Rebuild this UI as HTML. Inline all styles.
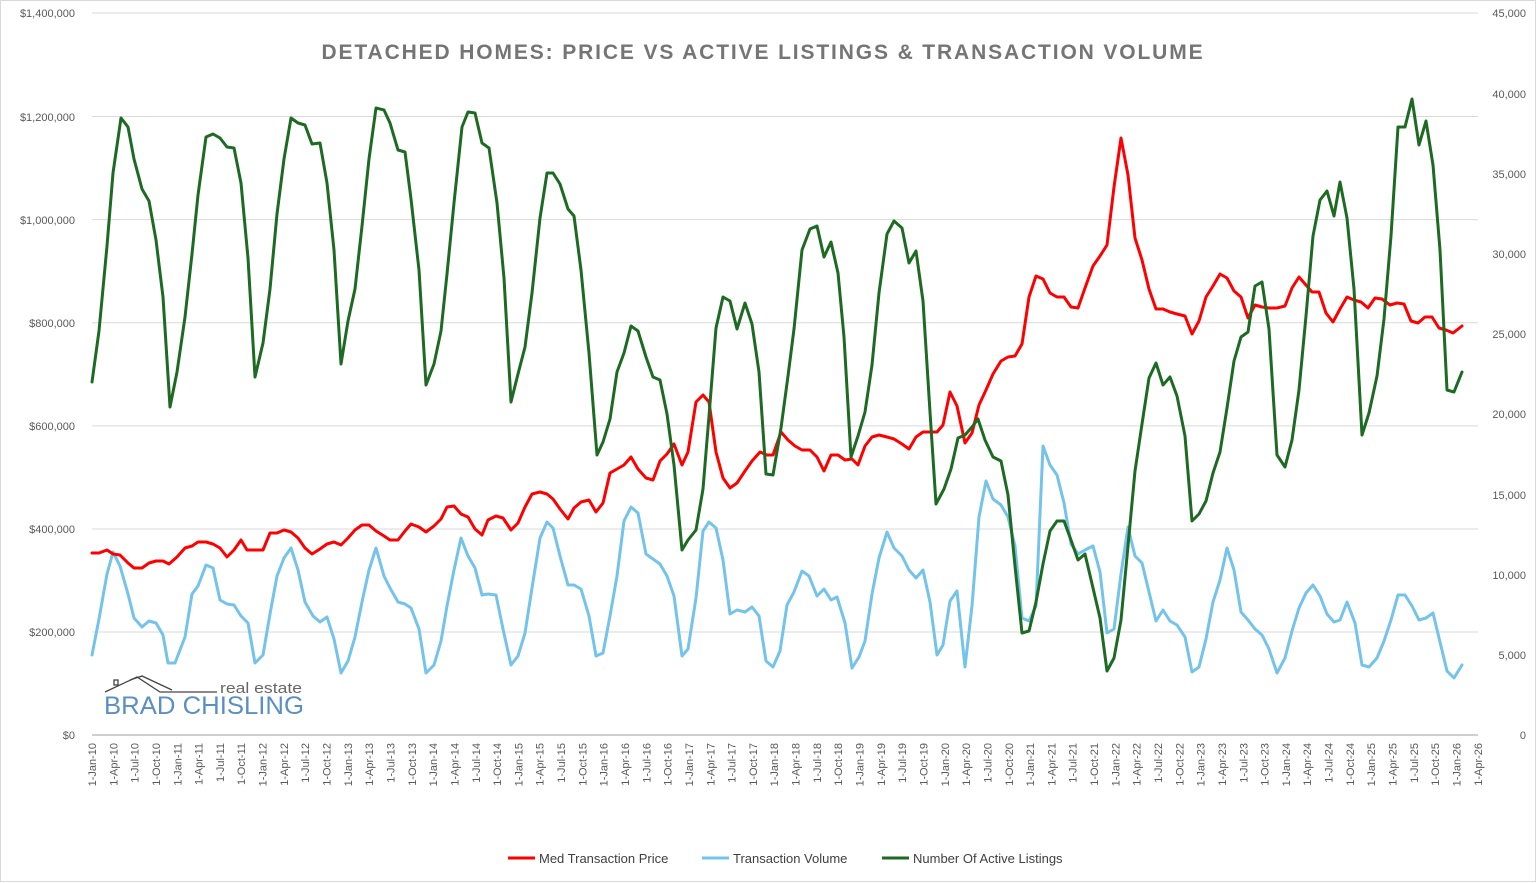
<!DOCTYPE html>
<html><head><meta charset="utf-8"><style>
html,body{margin:0;padding:0;background:#fff;}
svg{display:block;font-family:"Liberation Sans",sans-serif;}
</style></head><body>
<svg width="1537" height="883" viewBox="0 0 1537 883" xmlns="http://www.w3.org/2000/svg">
<rect x="0" y="0" width="1537" height="883" fill="#fff"/>
<rect x="0.5" y="0.5" width="1535" height="881" fill="none" stroke="#d9d9d9"/>
<g stroke="#d9d9d9" stroke-width="1">
<line x1="92" y1="13" x2="1478" y2="13"/>
<line x1="92" y1="116.5" x2="1478" y2="116.5"/>
<line x1="92" y1="219.6" x2="1478" y2="219.6"/>
<line x1="92" y1="322.7" x2="1478" y2="322.7"/>
<line x1="92" y1="425.9" x2="1478" y2="425.9"/>
<line x1="92" y1="529" x2="1478" y2="529"/>
<line x1="92" y1="632" x2="1478" y2="632"/>
</g>
<line x1="92" y1="735" x2="1478" y2="735" stroke="#bfbfbf" stroke-width="1.5"/>
<g font-size="11" fill="#595959" text-anchor="end">
<text x="75" y="739">$0</text>
<text x="75" y="636">$200,000</text>
<text x="75" y="533">$400,000</text>
<text x="75" y="430">$600,000</text>
<text x="75" y="327">$800,000</text>
<text x="75" y="224">$1,000,000</text>
<text x="75" y="121">$1,200,000</text>
<text x="75" y="17">$1,400,000</text>
</g>
<g font-size="11" fill="#595959" text-anchor="end">
<text x="1526" y="739">0</text>
<text x="1526" y="659">5,000</text>
<text x="1526" y="579">10,000</text>
<text x="1526" y="499">15,000</text>
<text x="1526" y="418">20,000</text>
<text x="1526" y="338">25,000</text>
<text x="1526" y="258">30,000</text>
<text x="1526" y="178">35,000</text>
<text x="1526" y="98">40,000</text>
<text x="1526" y="17">45,000</text>
</g>
<text x="763" y="59" text-anchor="middle" font-size="21" font-weight="bold" fill="#757575" letter-spacing="1.9" textLength="883" lengthAdjust="spacing">DETACHED HOMES: PRICE VS ACTIVE LISTINGS &amp; TRANSACTION VOLUME</text>

<!-- logo -->
<g fill="none" stroke="#444" stroke-width="1.3">
<polyline points="105,692 137,677 160,692 217,692"/>
<polyline points="130,680 142,676 172,690"/>
<rect x="114" y="680" width="4" height="5"/>
</g>
<text x="220" y="693" font-size="15" fill="#666" textLength="82" lengthAdjust="spacingAndGlyphs">real estate</text>
<text x="104" y="714" font-size="25" fill="#5a8fc4" textLength="200" lengthAdjust="spacingAndGlyphs">BRAD CHISLING</text>

<g fill="none" stroke-width="3" stroke-linejoin="round" stroke-linecap="round">
<polyline stroke="#74c3ea" points="92,655 99,619 107,574 113,552 120,566 128,594 134,618 142,627 149,621 156,623 163,635 168,663 175,663 185,637 192,594 198,586 206,565 213,568 220,600 227,604 234,605 241,616 248,623 255,663 263,655 270,614 277,576 284,558 291,548 298,570 305,602 313,616 320,622 327,617 334,639 341,673 348,661 355,637 362,602 369,570 376,548 384,576 390,588 398,602 405,604 411,608 419,629 426,673 434,665 441,641 447,606 454,570 461,538 468,556 475,568 482,595 488,594 496,595 503,629 511,665 518,656 525,633 532,588 540,538 547,522 553,528 560,556 568,585 574,585 581,589 589,616 596,656 603,653 610,616 617,576 624,521 631,507 638,513 646,554 653,559 660,564 667,576 674,596 682,656 688,649 696,598 703,531 709,522 716,528 723,560 730,614 737,610 745,612 752,607 759,616 766,661 773,667 780,651 787,605 794,592 802,571 809,576 817,596 824,589 831,600 837,597 845,623 852,668 859,657 865,641 872,594 879,558 887,532 894,548 902,556 909,570 916,578 923,570 930,602 937,655 943,645 950,601 957,591 965,667 972,606 979,517 986,481 993,499 1001,505 1008,517 1015,546 1022,618 1029,621 1036,606 1043,446 1050,465 1057,475 1064,503 1071,544 1078,554 1085,550 1093,546 1100,572 1107,633 1114,629 1121,574 1128,527 1135,556 1142,563 1149,592 1156,621 1163,610 1170,621 1177,625 1185,637 1192,672 1199,667 1206,639 1213,602 1220,580 1227,548 1234,570 1241,612 1248,620 1255,629 1262,635 1269,649 1277,673 1285,658 1292,631 1299,608 1306,593 1313,585 1320,596 1327,614 1334,622 1340,620 1347,602 1355,623 1362,665 1369,667 1377,658 1384,641 1391,620 1398,595 1405,595 1412,606 1419,620 1426,618 1433,613 1440,642 1447,671 1454,678 1462,665"/>
<polyline stroke="#ff0000" points="92,553 99,553 107,550 113,554 120,555 128,563 134,568 142,568 149,563 156,561 163,561 169,564 177,557 185,548 192,546 198,542 206,542 213,544 220,548 227,557 234,550 241,540 247,550 255,550 263,550 270,533 277,533 284,530 291,532 298,538 305,548 312,554 320,549 327,544 334,542 341,545 348,538 355,530 362,525 369,525 376,531 384,536 390,540 398,540 405,531 411,524 419,527 426,532 434,526 441,519 447,507 454,506 461,514 468,517 475,529 482,535 488,520 496,516 503,518 511,530 518,523 525,507 532,494 540,492 547,494 553,499 560,509 568,519 574,508 581,502 589,500 596,512 603,503 610,473 617,469 624,465 631,457 638,469 646,478 653,480 660,461 667,454 674,444 682,465 688,452 696,402 703,395 709,402 716,452 723,478 730,488 737,483 745,471 752,461 760,452 767,455 773,455 781,432 788,440 795,446 802,450 810,450 817,457 824,471 831,455 838,455 845,460 852,459 858,465 865,446 872,437 879,435 887,437 894,439 902,444 909,449 916,437 923,432 930,432 937,432 943,425 950,392 957,406 965,443 972,433 979,405 986,390 993,374 1001,361 1008,357 1015,356 1022,344 1029,297 1036,276 1043,279 1050,293 1057,297 1064,297 1071,307 1078,308 1085,288 1093,266 1100,256 1107,245 1114,187 1121,138 1128,175 1135,238 1142,260 1149,289 1156,309 1163,309 1170,312 1177,314 1185,316 1192,334 1199,321 1206,297 1213,286 1220,274 1227,278 1234,291 1241,297 1248,318 1255,305 1262,307 1269,308 1277,308 1285,306 1292,288 1299,277 1312,292 1319,292 1326,313 1333,322 1340,309 1347,297 1354,300 1361,302 1368,308 1375,298 1382,299 1390,305 1397,303 1404,304 1411,321 1418,323 1425,317 1432,317 1439,328 1446,330 1453,333 1462,326"/>
<polyline stroke="#1d6a22" points="92,382 99,331 107,246 113,173 121,118 128,127 134,159 142,189 149,201 156,240 163,297 170,407 177,372 185,317 192,254 198,195 206,137 213,134 220,138 227,147 234,148 241,183 248,258 255,377 263,343 270,289 277,214 284,159 291,118 298,123 305,125 312,144 320,143 327,183 334,250 341,364 348,321 355,289 362,226 369,159 376,108 384,110 390,123 398,150 405,152 411,199 419,270 426,385 434,364 441,331 447,274 454,203 462,127 468,112 475,113 482,143 489,148 497,203 504,278 511,402 518,374 525,347 532,293 540,218 547,173 553,173 560,184 568,209 574,216 581,270 589,353 597,455 603,442 610,419 617,372 624,353 631,326 638,331 646,357 653,377 660,380 667,414 674,465 682,550 688,540 696,530 703,489 709,416 716,328 723,297 730,301 737,329 745,303 752,324 759,372 766,474 773,475 781,428 788,376 794,329 802,250 810,229 817,226 824,257 831,242 838,273 844,337 851,457 858,436 865,412 872,365 879,293 887,234 894,221 902,228 909,263 916,251 923,301 930,412 936,504 944,489 951,469 958,438 965,435 972,427 978,419 985,440 993,457 1001,461 1008,495 1015,566 1022,633 1029,631 1036,602 1043,564 1050,531 1057,521 1064,521 1071,540 1078,560 1085,554 1093,588 1100,618 1107,671 1114,658 1121,620 1128,546 1135,471 1142,424 1149,378 1156,363 1163,385 1170,377 1177,396 1185,436 1192,521 1199,514 1206,501 1213,473 1220,452 1227,408 1234,361 1241,337 1248,332 1255,286 1262,282 1269,329 1277,455 1285,467 1292,440 1299,390 1306,316 1313,236 1320,200 1327,191 1334,216 1340,182 1347,218 1354,289 1362,435 1369,413 1377,376 1384,319 1391,236 1398,127 1405,127 1412,99 1419,145 1426,121 1433,165 1440,250 1447,390 1454,392 1462,372"/>
</g>

<!-- legend -->
<line x1="508" y1="858" x2="535" y2="858" stroke="#ff0000" stroke-width="3"/>
<text x="539" y="863" font-size="13" fill="#404040">Med Transaction Price</text>
<line x1="702" y1="858" x2="729" y2="858" stroke="#74c3ea" stroke-width="3"/>
<text x="733" y="863" font-size="13" fill="#404040">Transaction Volume</text>
<line x1="882" y1="858" x2="909" y2="858" stroke="#1d6a22" stroke-width="3"/>
<text x="913" y="863" font-size="13" fill="#404040">Number Of Active Listings</text>

<g font-size="11" fill="#595959" text-anchor="end">
<text transform="translate(96,743) rotate(-90)">1-Jan-10</text>
<text transform="translate(117.3,743) rotate(-90)">1-Apr-10</text>
<text transform="translate(138.6,743) rotate(-90)">1-Jul-10</text>
<text transform="translate(160,743) rotate(-90)">1-Oct-10</text>
<text transform="translate(181.3,743) rotate(-90)">1-Jan-11</text>
<text transform="translate(202.6,743) rotate(-90)">1-Apr-11</text>
<text transform="translate(223.9,743) rotate(-90)">1-Jul-11</text>
<text transform="translate(245.2,743) rotate(-90)">1-Oct-11</text>
<text transform="translate(266.6,743) rotate(-90)">1-Jan-12</text>
<text transform="translate(287.9,743) rotate(-90)">1-Apr-12</text>
<text transform="translate(309.2,743) rotate(-90)">1-Jul-12</text>
<text transform="translate(330.5,743) rotate(-90)">1-Oct-12</text>
<text transform="translate(351.8,743) rotate(-90)">1-Jan-13</text>
<text transform="translate(373.2,743) rotate(-90)">1-Apr-13</text>
<text transform="translate(394.5,743) rotate(-90)">1-Jul-13</text>
<text transform="translate(415.8,743) rotate(-90)">1-Oct-13</text>
<text transform="translate(437.1,743) rotate(-90)">1-Jan-14</text>
<text transform="translate(458.4,743) rotate(-90)">1-Apr-14</text>
<text transform="translate(479.8,743) rotate(-90)">1-Jul-14</text>
<text transform="translate(501.1,743) rotate(-90)">1-Oct-14</text>
<text transform="translate(522.4,743) rotate(-90)">1-Jan-15</text>
<text transform="translate(543.7,743) rotate(-90)">1-Apr-15</text>
<text transform="translate(565,743) rotate(-90)">1-Jul-15</text>
<text transform="translate(586.4,743) rotate(-90)">1-Oct-15</text>
<text transform="translate(607.7,743) rotate(-90)">1-Jan-16</text>
<text transform="translate(629,743) rotate(-90)">1-Apr-16</text>
<text transform="translate(650.3,743) rotate(-90)">1-Jul-16</text>
<text transform="translate(671.6,743) rotate(-90)">1-Oct-16</text>
<text transform="translate(693,743) rotate(-90)">1-Jan-17</text>
<text transform="translate(714.3,743) rotate(-90)">1-Apr-17</text>
<text transform="translate(735.6,743) rotate(-90)">1-Jul-17</text>
<text transform="translate(756.9,743) rotate(-90)">1-Oct-17</text>
<text transform="translate(778.2,743) rotate(-90)">1-Jan-18</text>
<text transform="translate(799.6,743) rotate(-90)">1-Apr-18</text>
<text transform="translate(820.9,743) rotate(-90)">1-Jul-18</text>
<text transform="translate(842.2,743) rotate(-90)">1-Oct-18</text>
<text transform="translate(863.5,743) rotate(-90)">1-Jan-19</text>
<text transform="translate(884.8,743) rotate(-90)">1-Apr-19</text>
<text transform="translate(906.2,743) rotate(-90)">1-Jul-19</text>
<text transform="translate(927.5,743) rotate(-90)">1-Oct-19</text>
<text transform="translate(948.8,743) rotate(-90)">1-Jan-20</text>
<text transform="translate(970.1,743) rotate(-90)">1-Apr-20</text>
<text transform="translate(991.4,743) rotate(-90)">1-Jul-20</text>
<text transform="translate(1012.8,743) rotate(-90)">1-Oct-20</text>
<text transform="translate(1034.1,743) rotate(-90)">1-Jan-21</text>
<text transform="translate(1055.4,743) rotate(-90)">1-Apr-21</text>
<text transform="translate(1076.7,743) rotate(-90)">1-Jul-21</text>
<text transform="translate(1098,743) rotate(-90)">1-Oct-21</text>
<text transform="translate(1119.4,743) rotate(-90)">1-Jan-22</text>
<text transform="translate(1140.7,743) rotate(-90)">1-Apr-22</text>
<text transform="translate(1162,743) rotate(-90)">1-Jul-22</text>
<text transform="translate(1183.3,743) rotate(-90)">1-Oct-22</text>
<text transform="translate(1204.6,743) rotate(-90)">1-Jan-23</text>
<text transform="translate(1226,743) rotate(-90)">1-Apr-23</text>
<text transform="translate(1247.3,743) rotate(-90)">1-Jul-23</text>
<text transform="translate(1268.6,743) rotate(-90)">1-Oct-23</text>
<text transform="translate(1289.9,743) rotate(-90)">1-Jan-24</text>
<text transform="translate(1311.2,743) rotate(-90)">1-Apr-24</text>
<text transform="translate(1332.6,743) rotate(-90)">1-Jul-24</text>
<text transform="translate(1353.9,743) rotate(-90)">1-Oct-24</text>
<text transform="translate(1375.2,743) rotate(-90)">1-Jan-25</text>
<text transform="translate(1396.5,743) rotate(-90)">1-Apr-25</text>
<text transform="translate(1417.8,743) rotate(-90)">1-Jul-25</text>
<text transform="translate(1439.2,743) rotate(-90)">1-Oct-25</text>
<text transform="translate(1460.5,743) rotate(-90)">1-Jan-26</text>
<text transform="translate(1481.8,743) rotate(-90)">1-Apr-26</text>
</g>
</svg>
</body></html>
